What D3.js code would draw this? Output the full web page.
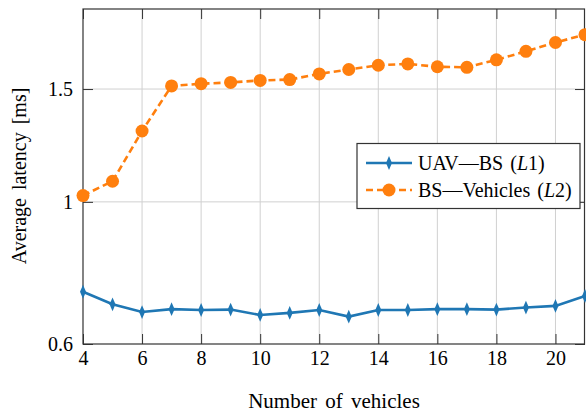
<!DOCTYPE html>
<html>
<head>
<meta charset="utf-8">
<script src="https://cdn.jsdelivr.net/npm/d3@7"></script>
<style>
  body { margin: 0; background: #fff; }
  text { font-family: "Liberation Serif", "Times New Roman", serif; fill: #000; }
</style>
</head>
<body>
<div id="chart"></div>
<script>
// Number of vehicles
const vehicles = [4, 5, 6, 7, 8, 9, 10, 11, 12, 13, 14, 15, 16, 17, 18, 19, 20, 21];

// Latency UAV-BS (L1), ms
const latencyL1 = [0.724, 0.692, 0.673, 0.680, 0.678, 0.679, 0.666, 0.671, 0.678,
    0.662, 0.678, 0.678, 0.680, 0.680, 0.679, 0.684, 0.688, 0.713];

// Latency BS-Vehicles (L2), ms
const latencyL2 = [1.023, 1.077, 1.29, 1.517, 1.529, 1.536, 1.547, 1.552, 1.584,
    1.609, 1.634, 1.642, 1.625, 1.622, 1.666, 1.718, 1.773, 1.824];

const xTicks = [4, 6, 8, 10, 12, 14, 16, 18, 20];
const yTicks = [0.6, 1, 1.5];

const width = 586;
const height = 413;
const margin = { top: 9, right: 1, bottom: 69, left: 83 };

const svg = d3.select('#chart')
    .append('svg')
    .attr('width', width)
    .attr('height', height);

const xScale = d3.scaleLinear()
    .domain([4, 21])
    .range([margin.left, width - margin.right]);

const yScale = d3.scaleLog()
    .domain([0.6, 2])
    .range([height - margin.bottom, margin.top]);

const x0 = margin.left, x1 = width - margin.right;
const y0 = height - margin.bottom, y1 = margin.top;

// grid lines
svg.append('g')
    .selectAll('line')
    .data(xTicks.filter(d => d > 4))
    .join('line')
    .attr('x1', d => xScale(d)).attr('x2', d => xScale(d))
    .attr('y1', y0).attr('y2', y1)
    .attr('stroke', '#d0d0d0').attr('stroke-width', 1);

svg.append('g')
    .selectAll('line')
    .data(yTicks.filter(d => d > 0.6))
    .join('line')
    .attr('x1', x0).attr('x2', x1)
    .attr('y1', d => yScale(d)).attr('y2', d => yScale(d))
    .attr('stroke', '#d0d0d0').attr('stroke-width', 1);

// axes with inward ticks
const tickLen = 10;
svg.append('g')
    .attr('transform', `translate(0,${y0})`)
    .call(d3.axisBottom(xScale).tickValues(xTicks).tickFormat(d3.format('d')).tickSizeInner(-tickLen).tickSizeOuter(0).tickPadding(7));

svg.append('g')
    .attr('transform', `translate(0,${y1})`)
    .call(d3.axisTop(xScale).tickValues(xTicks).tickFormat('').tickSizeInner(-tickLen).tickSizeOuter(0));

svg.append('g')
    .attr('transform', `translate(${x0},0)`)
    .call(d3.axisLeft(yScale).tickValues(yTicks).tickFormat(d => d).tickSizeInner(-tickLen).tickSizeOuter(0).tickPadding(10));

svg.append('g')
    .attr('transform', `translate(${x1},0)`)
    .call(d3.axisRight(yScale).tickValues(yTicks).tickFormat('').tickSizeInner(-tickLen).tickSizeOuter(0));

svg.selectAll('.domain').remove();
svg.selectAll('.tick line').attr('stroke', '#333').attr('stroke-width', 1);
svg.selectAll('.tick text')
    .style('font-family', '"Liberation Serif", serif')
    .style('font-size', '20px')
    .attr('fill', '#000');

// frame
svg.append('rect')
    .attr('x', x0).attr('y', y1)
    .attr('width', x1 - x0 - 0.5).attr('height', y0 - y1)
    .attr('fill', 'none')
    .attr('stroke', '#333').attr('stroke-width', 1.2);

const dataL1 = vehicles.map((v, i) => ({ x: v, y: latencyL1[i] }));
const dataL2 = vehicles.map((v, i) => ({ x: v, y: latencyL2[i] }));

const line = d3.line()
    .x(d => xScale(d.x))
    .y(d => yScale(d.y));

const blue = '#1f77b4';
const orange = '#ff7f0e';

const plot = svg.append('g');

plot.append('path')
    .datum(dataL1)
    .attr('d', line)
    .attr('fill', 'none')
    .attr('stroke', blue)
    .attr('stroke-width', 2.6);

plot.selectAll('.m1')
    .data(dataL1)
    .join('path')
    .attr('class', 'm1')
    .attr('transform', d => `translate(${xScale(d.x)},${yScale(d.y)}) scale(0.75,1)`)
    .attr('d', d3.symbol(d3.symbolDiamond, 55))
    .attr('fill', blue);

plot.append('path')
    .datum(dataL2)
    .attr('d', line)
    .attr('fill', 'none')
    .attr('stroke', orange)
    .attr('stroke-width', 2.6)
    .attr('stroke-dasharray', '7,4');

plot.selectAll('.m2')
    .data(dataL2)
    .join('circle')
    .attr('class', 'm2')
    .attr('cx', d => xScale(d.x))
    .attr('cy', d => yScale(d.y))
    .attr('r', 6.5)
    .attr('fill', orange);

// legend
const legend = svg.append('g');
legend.append('rect')
    .attr('x', 357).attr('y', 143.5)
    .attr('width', 223).attr('height', 65)
    .attr('fill', '#fff')
    .attr('stroke', '#333').attr('stroke-width', 1.2);

const rows = [
    { y: 163, color: blue, dash: null, pre: 'UAV—BS (', sub: '1)', marker: 'diamond' },
    { y: 190, color: orange, dash: '7,4', pre: 'BS—Vehicles (', sub: '2)', marker: 'circle' }
];

rows.forEach(r => {
    legend.append('line')
        .attr('x1', 366).attr('x2', 412)
        .attr('y1', r.y).attr('y2', r.y)
        .attr('stroke', r.color).attr('stroke-width', 2.6)
        .attr('stroke-dasharray', r.dash);
    if (r.marker === 'diamond') {
        legend.append('path')
            .attr('transform', `translate(389,${r.y}) scale(0.75,1)`)
            .attr('d', d3.symbol(d3.symbolDiamond, 55))
            .attr('fill', r.color);
    } else {
        legend.append('circle')
            .attr('cx', 389).attr('cy', r.y).attr('r', 6.5)
            .attr('fill', r.color);
    }
    const t = legend.append('text')
        .attr('x', 418).attr('y', r.y)
        .attr('dy', '0.35em')
        .style('font-size', '20px')
        .style('word-spacing', '2px');
    t.append('tspan').text(r.pre);
    t.append('tspan').style('font-style', 'italic').text('L');
    t.append('tspan').text(r.sub);
});

// axis labels
svg.append('text')
    .attr('x', (x0 + x1) / 2)
    .attr('y', 408)
    .attr('text-anchor', 'middle')
    .style('font-size', '21px')
    .style('word-spacing', '3px')
    .text('Number of vehicles');

svg.append('text')
    .attr('transform', 'rotate(-90)')
    .attr('x', -176)
    .attr('y', 26)
    .attr('text-anchor', 'middle')
    .style('font-size', '20px')
    .style('word-spacing', '3px')
    .text('Average latency [ms]');
</script>
</body>
</html>
